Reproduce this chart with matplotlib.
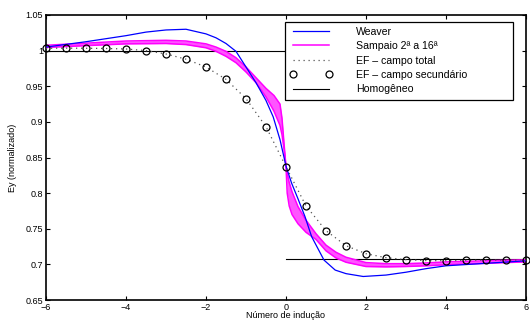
import numpy as np
import matplotlib
matplotlib.use("Agg")
import matplotlib.pyplot as plt
from matplotlib.patches import Rectangle

plt.rcParams['font.family'] = ['Liberation Sans', 'DejaVu Sans']

# Weaver analytic solution
weaver_x = [-6, -5, -4, -3.5, -3, -2.5, -2, -1.75, -1.5, -1.25, -1, -0.75, -0.5,
            -0.32, -0.15, 0, 0.14, 0.3, 0.475, 0.64, 0.95, 1.23, 1.5, 1.93, 2.5,
            3, 3.5, 4, 5, 6]
weaver_y = [1.005, 1.0125, 1.021, 1.026, 1.029, 1.030, 1.0235, 1.018, 1.010, 0.999,
            0.977, 0.955, 0.930, 0.907, 0.875, 0.838, 0.814, 0.792, 0.767, 0.739,
            0.706, 0.692, 0.687, 0.683, 0.685, 0.689, 0.694, 0.698, 0.7015, 0.705]

# Sampaio series, orders 2 to 16 (envelope of the family of curves)
sampaio_x = [-6, -5, -4, -3, -2.5, -2, -1.75, -1.5, -1.25, -1, -0.75, -0.5, -0.3,
             -0.15, -0.1, -0.05, 0, 0.03, 0.08, 0.15, 0.3, 0.5, 0.75, 1, 1.25,
             1.5, 2, 2.5, 3, 3.5, 4, 5, 6]
sampaio_hi = [1.0075, 1.0105, 1.0135, 1.0145, 1.0135, 1.0095, 1.005, 0.999, 0.990,
              0.977, 0.962, 0.947, 0.937, 0.925, 0.905, 0.870, 0.837, 0.828, 0.815,
              0.802, 0.781, 0.762, 0.743, 0.727, 0.717, 0.710, 0.7025, 0.701, 0.701,
              0.702, 0.7035, 0.705, 0.7065]
sampaio_lo = [1.0045, 1.007, 1.0095, 1.010, 1.0085, 1.004, 0.999, 0.992, 0.983,
              0.970, 0.955, 0.935, 0.915, 0.895, 0.882, 0.862, 0.837, 0.800, 0.782,
              0.770, 0.757, 0.745, 0.735, 0.719, 0.709, 0.703, 0.697, 0.6965, 0.697,
              0.698, 0.6995, 0.7015, 0.7035]

# Finite-element results
ef_x = [-6, -5.5, -5, -4.5, -4, -3.5, -3, -2.5, -2, -1.5, -1, -0.5, 0, 0.5, 1,
        1.5, 2, 2.5, 3, 3.5, 4, 4.5, 5, 5.5, 6]
ef_total = [1.0033, 1.0035, 1.0033, 1.003, 1.0023, 1.000, 0.9953, 0.988, 0.977,
            0.9597, 0.9326, 0.8932, 0.837, 0.782, 0.7473, 0.7262, 0.715, 0.7094,
            0.7066, 0.7053, 0.7052, 0.7057, 0.706, 0.706, 0.706]
ef_secundario = ef_total

# Homogeneous half-spaces
homog_x = [-6, 0, np.nan, 0, 6]
homog_y = [1.0, 1.0, np.nan, 0.707, 0.707]

xticks = [-6, -4, -2, 0, 2, 4, 6]
yticks = [0.65, 0.7, 0.75, 0.8, 0.85, 0.9, 0.95, 1.0, 1.05]

fig = plt.figure(figsize=(5.3, 3.2), dpi=100)
ax = fig.add_axes([46 / 530, 1 - 300 / 320, 480 / 530, 285 / 320])

ax.plot(weaver_x, weaver_y, color='#0000ff', lw=0.9, label='Weaver', zorder=3)
ax.fill_between(sampaio_x, sampaio_lo, sampaio_hi, color='#ff55ff', lw=0, zorder=2)
ax.plot(sampaio_x, sampaio_hi, color='#ff00ff', lw=1.1, label='Sampaio 2ª a 16ª', zorder=2)
ax.plot(sampaio_x, sampaio_lo, color='#ff00ff', lw=1.1, zorder=2)
ax.plot(ef_x, ef_total, color='#555555', lw=0.9, ls=(0, (1, 3)),
        label='EF – campo total', zorder=4)
ax.plot(ef_x, ef_secundario, ls='none', marker='o', ms=5, mfc='none', mec='black',
        mew=0.9, label='EF – campo secundário', zorder=5, clip_on=False)
ax.plot(homog_x, homog_y, color='black', lw=0.8, label='Homogêneo', zorder=1)

ax.set_xlim(-6, 6)
ax.set_ylim(0.65, 1.05)
ax.set_xticks(xticks)
ax.set_xticklabels(['\u2212' + str(-t) if t < 0 else str(t) for t in xticks])
ax.set_yticks(yticks)
ax.set_yticklabels([('%g' % t) for t in yticks])
ax.tick_params(direction='in', top=True, right=True, labelsize=6.5, length=3,
               width=0.8, pad=2)
for s in ax.spines.values():
    s.set_linewidth(1.2)

ax.set_xlabel('Número de indução', fontsize=6.5, labelpad=0)
ax.xaxis.set_label_coords(0.5, -0.038)
ax.set_ylabel('Ey (normalizado)', fontsize=6.5, labelpad=6)

# Legend box (wide, with empty space on the right)
box = Rectangle((0.498, 0.7018), 0.475, 0.2736, transform=ax.transAxes,
                facecolor='white', edgecolor='black', lw=0.9, zorder=6)
ax.add_patch(box)
leg = ax.legend(loc='upper left', bbox_to_anchor=(0.498, 0.9754), fontsize=7.6,
                frameon=False, handlelength=4.0, handletextpad=2.3, borderpad=0.45,
                borderaxespad=0, labelspacing=0.42, numpoints=2)
leg.set_zorder(7)

fig.savefig('out.png', dpi=100)
